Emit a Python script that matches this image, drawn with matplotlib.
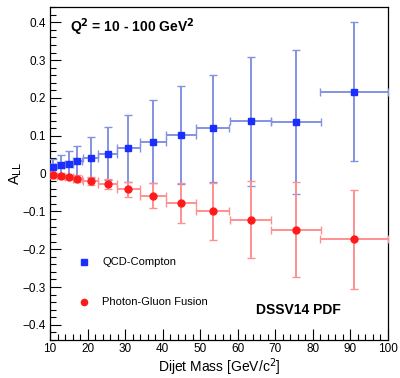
import matplotlib
matplotlib.use("Agg")
import matplotlib.pyplot as plt
from matplotlib.ticker import MultipleLocator
import numpy as np

plt.rcParams['font.family'] = ['Liberation Sans', 'DejaVu Sans']

# Dijet mass bin centres and half-widths [GeV/c^2]
mass = [10.7, 12.8, 15.0, 17.3, 20.8, 25.4, 30.9, 37.4, 44.9, 53.3, 63.4, 75.5, 90.9]
mass_err = [0.7, 1.0, 1.1, 1.3, 2.0, 2.5, 2.95, 3.55, 4.1, 4.4, 5.55, 6.55, 9.0]

# QCD-Compton asymmetry
qcd_all = [0.018, 0.022, 0.026, 0.032, 0.042, 0.053, 0.067, 0.084, 0.102, 0.120, 0.138, 0.136, 0.216]
qcd_err = [0.020, 0.026, 0.035, 0.042, 0.054, 0.069, 0.089, 0.110, 0.130, 0.142, 0.171, 0.191, 0.184]

# Photon-Gluon Fusion asymmetry
pgf_all = [-0.004, -0.006, -0.009, -0.013, -0.019, -0.028, -0.042, -0.058, -0.078, -0.100, -0.122, -0.148, -0.174]
pgf_err = [0.004, 0.005, 0.006, 0.008, 0.010, 0.014, 0.020, 0.033, 0.053, 0.075, 0.102, 0.125, 0.130]

fig = plt.figure(figsize=(4.0, 3.78), dpi=100)
ax = fig.add_axes([0.125, 0.1005, 0.845, 0.8805])


def draw(y, yerr, color, line_color, cap_color, marker, ms, label):
    cont = ax.errorbar(mass, y, xerr=mass_err, yerr=yerr, fmt=marker, color=color,
                       ms=ms, ecolor=line_color, elinewidth=1.4, capsize=3,
                       capthick=1.0, label=label, zorder=3)
    for cap in cont[1]:
        cap.set_color(cap_color)
    return cont


draw(qcd_all, qcd_err, '#1a2eff', '#8392e2', '#5566d8', 's', 4.5, 'QCD-Compton')
draw(pgf_all, pgf_err, '#ff1a1a', '#ff9090', '#ff6060', 'o', 5.0, 'Photon-Gluon Fusion')

ax.set_xlim(10, 100)
ax.set_ylim(-0.44, 0.44)
ax.xaxis.set_major_locator(MultipleLocator(10))
ax.xaxis.set_minor_locator(MultipleLocator(2))
ax.yaxis.set_major_locator(MultipleLocator(0.1))
ax.yaxis.set_minor_locator(MultipleLocator(0.02))
ax.tick_params(which='both', direction='in', top=False, right=False, labelsize=8.5, pad=3)
ax.tick_params(axis='x', which='both', pad=2)
ax.tick_params(which='major', length=8, width=0.8)
ax.tick_params(which='minor', length=4, width=0.8)
ax.set_yticks(np.round(np.arange(-0.4, 0.41, 0.1), 1))
ax.set_yticklabels(['\u22120.4', '\u22120.3', '\u22120.2', '\u22120.1', '0',
                    '0.1', '0.2', '0.3', '0.4'])
for s in ax.spines.values():
    s.set_linewidth(0.9)

ax.set_xlabel('Dijet Mass [GeV/c$^2$]', fontsize=10)
ax.xaxis.set_label_coords(0.5, -0.05)
ax.set_ylabel('A$_{\\rm LL}$', fontsize=10.5)
ax.yaxis.set_label_coords(-0.078, 0.5)

ax.text(0.06, 0.94, 'Q$^{\\bf 2}$ = 10 - 100 GeV$^{\\bf 2}$', transform=ax.transAxes,
        fontsize=10, fontweight='bold', va='center', ha='left')
ax.text(0.61, 0.09, 'DSSV14 PDF', transform=ax.transAxes, fontsize=10,
        fontweight='bold', va='center', ha='left')

# legend entries
ax.plot([0.1], [0.235], 's', color='#1a2eff', ms=4.5, transform=ax.transAxes)
ax.text(0.155, 0.235, 'QCD-Compton', transform=ax.transAxes, fontsize=8, va='center')
ax.plot([0.1], [0.115], 'o', color='#ff1a1a', ms=4.5, transform=ax.transAxes)
ax.text(0.155, 0.115, 'Photon-Gluon Fusion', transform=ax.transAxes, fontsize=8, va='center')

fig.savefig('out.png', dpi=100)
